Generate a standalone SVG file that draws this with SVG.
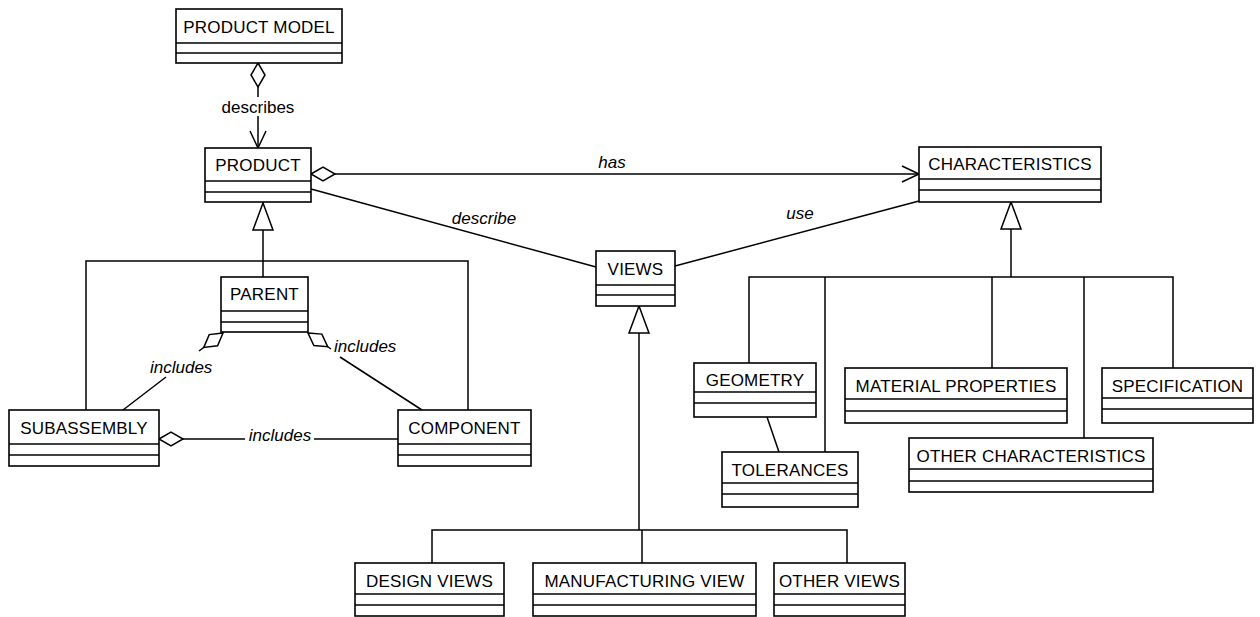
<svg xmlns="http://www.w3.org/2000/svg" width="1260" height="617" viewBox="0 0 1260 617">
  <style>
    .box rect { fill: #fff; stroke: #000; stroke-width: 1.6; }
    .box line { stroke: #000; stroke-width: 1.6; }
    .box text { font-family: "Liberation Sans", Arial, sans-serif; font-size: 17px; letter-spacing: 0.2px; text-anchor: middle; fill: #000; }
    .wire { fill: none; stroke: #000; stroke-width: 1.5; }
    .lbl { font-family: "Liberation Sans", Arial, sans-serif; font-size: 17px; fill: #000; }
    .it { font-style: italic; }
  </style>
  <defs>
    <!-- aggregation diamond, tip sits on the owning class -->
    <marker id="diamond" markerUnits="userSpaceOnUse" markerWidth="30" markerHeight="20" refX="0" refY="0" orient="auto" style="overflow:visible">
      <path d="M0,0 L12,-7 L24,0 L12,7 Z" fill="#fff" stroke="#000" stroke-width="1.5"/>
    </marker>
    <!-- open navigation arrow -->
    <marker id="arrow" markerUnits="userSpaceOnUse" markerWidth="20" markerHeight="20" refX="0" refY="0" orient="auto" style="overflow:visible">
      <path d="M-17,-8 L0,0 L-17,8" fill="none" stroke="#000" stroke-width="1.5"/>
    </marker>
    <!-- hollow generalization triangle, tip on the superclass -->
    <marker id="gen" markerUnits="userSpaceOnUse" markerWidth="30" markerHeight="24" refX="0" refY="0" orient="auto" style="overflow:visible">
      <path d="M0,0 L27,-10 L27,10 Z" fill="#fff" stroke="#000" stroke-width="1.5"/>
    </marker>
  </defs>

  <rect width="1260" height="617" fill="#fff"/>

  <g id="connectors">
    <!-- PRODUCT MODEL describes PRODUCT -->
    <path class="wire" d="M258,63 L258,97" marker-start="url(#diamond)"/>
    <text class="lbl" x="258" y="113" text-anchor="middle">describes</text>
    <path class="wire" d="M258,116 L258,148" marker-end="url(#arrow)"/>

    <!-- PRODUCT has CHARACTERISTICS -->
    <path class="wire" d="M311,174 L919,174" marker-start="url(#diamond)" marker-end="url(#arrow)"/>
    <text class="lbl it" x="612" y="168" text-anchor="middle">has</text>

    <!-- PRODUCT describe VIEWS -->
    <path class="wire" d="M311,189 L596,267"/>
    <text class="lbl it" x="484" y="224" text-anchor="middle">describe</text>

    <!-- VIEWS use CHARACTERISTICS -->
    <path class="wire" d="M675,266 L919,201"/>
    <text class="lbl it" x="800" y="219" text-anchor="middle">use</text>

    <!-- PRODUCT specialisations -->
    <path class="wire" d="M263,203 L263,277" marker-start="url(#gen)"/>
    <path class="wire" d="M86,410 L86,261 L468,261 L468,410"/>

    <!-- PARENT includes SUBASSEMBLY -->
    <path class="wire" d="M223,333 L199,351" marker-start="url(#diamond)"/>
    <text class="lbl it" x="150" y="373">includes</text>
    <path class="wire" d="M166,377 L123,410"/>

    <!-- PARENT includes COMPONENT -->
    <path class="wire" d="M308,333 L331,349" marker-start="url(#diamond)"/>
    <text class="lbl it" x="334" y="352">includes</text>
    <path class="wire" d="M340,357 L422,410"/>

    <!-- SUBASSEMBLY includes COMPONENT -->
    <path class="wire" d="M159,439 L245,439" marker-start="url(#diamond)"/>
    <text class="lbl it" x="280" y="441" text-anchor="middle">includes</text>
    <path class="wire" d="M314,439 L398,439"/>

    <!-- VIEWS specialisations -->
    <path class="wire" d="M639,306 L639,530" marker-start="url(#gen)"/>
    <path class="wire" d="M432,563 L432,530 L847,530 L847,563"/>
    <path class="wire" d="M642,530 L642,563"/>

    <!-- CHARACTERISTICS specialisations -->
    <path class="wire" d="M1011,202 L1011,277" marker-start="url(#gen)"/>
    <path class="wire" d="M749,363 L749,277 L1173,277 L1173,368"/>
    <path class="wire" d="M825,277 L825,452"/>
    <path class="wire" d="M992,277 L992,368"/>
    <path class="wire" d="M1084,277 L1084,438"/>

    <!-- GEOMETRY to TOLERANCES -->
    <path class="wire" d="M767,417 L779,452"/>
  </g>

  <g id="product-model" class="box">
    <rect x="176" y="9" width="166" height="54"/>
    <line x1="176" y1="43" x2="342" y2="43"/><line x1="176" y1="53" x2="342" y2="53"/>
    <text x="259" y="33">PRODUCT MODEL</text>
  </g>
  <g id="product" class="box">
    <rect x="205" y="148" width="106" height="54"/>
    <line x1="205" y1="181" x2="311" y2="181"/><line x1="205" y1="192" x2="311" y2="192"/>
    <text x="258" y="171">PRODUCT</text>
  </g>
  <g id="characteristics" class="box">
    <rect x="919" y="147" width="182" height="55"/>
    <line x1="919" y1="179" x2="1101" y2="179"/><line x1="919" y1="190" x2="1101" y2="190"/>
    <text x="1010" y="170">CHARACTERISTICS</text>
  </g>
  <g id="views" class="box">
    <rect x="596" y="251" width="79" height="55"/>
    <line x1="596" y1="285" x2="675" y2="285"/><line x1="596" y1="295" x2="675" y2="295"/>
    <text x="635.5" y="275">VIEWS</text>
  </g>
  <g id="parent" class="box">
    <rect x="221" y="277" width="87" height="55"/>
    <line x1="221" y1="311" x2="308" y2="311"/><line x1="221" y1="322" x2="308" y2="322"/>
    <text x="264.5" y="300">PARENT</text>
  </g>
  <g id="subassembly" class="box">
    <rect x="9" y="410" width="150" height="56"/>
    <line x1="9" y1="444" x2="159" y2="444"/><line x1="9" y1="455" x2="159" y2="455"/>
    <text x="84" y="434">SUBASSEMBLY</text>
  </g>
  <g id="component" class="box">
    <rect x="398" y="410" width="133" height="56"/>
    <line x1="398" y1="444" x2="531" y2="444"/><line x1="398" y1="455" x2="531" y2="455"/>
    <text x="464.5" y="434">COMPONENT</text>
  </g>
  <g id="geometry" class="box">
    <rect x="694" y="363" width="122" height="54"/>
    <line x1="694" y1="392" x2="816" y2="392"/><line x1="694" y1="403" x2="816" y2="403"/>
    <text x="755" y="386">GEOMETRY</text>
  </g>
  <g id="tolerances" class="box">
    <rect x="722" y="452" width="136" height="55"/>
    <line x1="722" y1="483" x2="858" y2="483"/><line x1="722" y1="494" x2="858" y2="494"/>
    <text x="790" y="476">TOLERANCES</text>
  </g>
  <g id="material-properties" class="box">
    <rect x="845" y="368" width="222" height="55"/>
    <line x1="845" y1="399" x2="1067" y2="399"/><line x1="845" y1="411" x2="1067" y2="411"/>
    <text x="956" y="392">MATERIAL PROPERTIES</text>
  </g>
  <g id="specification" class="box">
    <rect x="1102" y="368" width="151" height="55"/>
    <line x1="1102" y1="398" x2="1253" y2="398"/><line x1="1102" y1="409" x2="1253" y2="409"/>
    <text x="1177.5" y="392">SPECIFICATION</text>
  </g>
  <g id="other-characteristics" class="box">
    <rect x="909" y="438" width="244" height="54"/>
    <line x1="909" y1="469" x2="1153" y2="469"/><line x1="909" y1="481" x2="1153" y2="481"/>
    <text x="1031" y="462">OTHER CHARACTERISTICS</text>
  </g>
  <g id="design-views" class="box">
    <rect x="355" y="563" width="149" height="53"/>
    <line x1="355" y1="594" x2="504" y2="594"/><line x1="355" y1="605" x2="504" y2="605"/>
    <text x="429.5" y="587">DESIGN VIEWS</text>
  </g>
  <g id="manufacturing-view" class="box">
    <rect x="533" y="563" width="223" height="53"/>
    <line x1="533" y1="594" x2="756" y2="594"/><line x1="533" y1="605" x2="756" y2="605"/>
    <text x="644.5" y="587">MANUFACTURING VIEW</text>
  </g>
  <g id="other-views" class="box">
    <rect x="774" y="563" width="131" height="53"/>
    <line x1="774" y1="594" x2="905" y2="594"/><line x1="774" y1="605" x2="905" y2="605"/>
    <text x="839.5" y="587">OTHER VIEWS</text>
  </g>
</svg>
